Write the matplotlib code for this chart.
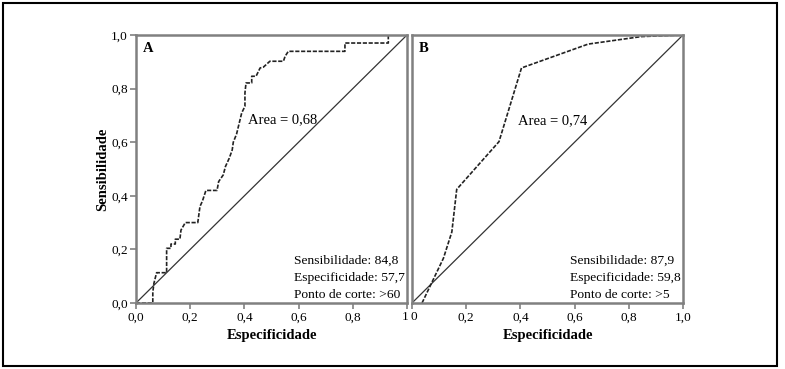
import matplotlib
matplotlib.use('Agg')
import matplotlib.pyplot as plt
import matplotlib.transforms as mtransforms
from matplotlib.patches import Rectangle

plt.rcParams['font.family'] = ['Liberation Serif', 'DejaVu Serif']

# painel A: curva em degraus (1 - especificidade, sensibilidade)
a_x = [0.0, 0.062, 0.062, 0.066, 0.076, 0.113, 0.113, 0.129, 0.129, 0.145, 0.145,
       0.162, 0.166, 0.182, 0.228, 0.236, 0.245, 0.258, 0.299, 0.305, 0.322, 0.33,
       0.344, 0.355, 0.359, 0.371, 0.39, 0.402, 0.402, 0.406, 0.427, 0.427, 0.443,
       0.458, 0.47, 0.494, 0.544, 0.55, 0.562, 0.771, 0.771, 0.931, 0.931, 1.0]
a_y = [0.0, 0.0, 0.04, 0.073, 0.113, 0.113, 0.204, 0.204, 0.22, 0.22, 0.238,
       0.238, 0.272, 0.30, 0.30, 0.36, 0.38, 0.42, 0.42, 0.453, 0.478, 0.509,
       0.54, 0.571, 0.6, 0.63, 0.709, 0.734, 0.784, 0.821, 0.821, 0.846, 0.846,
       0.877, 0.88, 0.902, 0.902, 0.92, 0.939, 0.939, 0.97, 0.97, 1.0, 1.0]

# painel B
b_x = [0.037, 0.116, 0.147, 0.165, 0.321, 0.404, 0.65, 0.846, 1.0]
b_y = [0.0, 0.167, 0.265, 0.424, 0.602, 0.877, 0.966, 0.994, 1.0]

ticks = [0.0, 0.2, 0.4, 0.6, 0.8, 1.0]
a_xlabels = ['0,0', '0,2', '0,4', '0,6', '0,8', '1']
b_xlabels = ['0', '0,2', '0,4', '0,6', '0,8', '1,0']
ylabels = ['0,0', '0,2', '0,4', '0,6', '0,8', '1,0']

panels = [
    ('A', a_x, a_y, 'Area = 0,68', (0.413, 0.683),
     ['Sensibilidade: 84,8', 'Especificidade: 57,7', 'Ponto de corte: >60'], a_xlabels),
    ('B', b_x, b_y, 'Area = 0,74', (0.39, 0.68),
     ['Sensibilidade: 87,9', 'Especificidade: 59,8', 'Ponto de corte: >5'], b_xlabels),
]

fig = plt.figure(figsize=(7.85, 3.69), dpi=100)
fig.patches.append(Rectangle((0.004, 0.008), 0.986, 0.984, transform=fig.transFigure,
                             fill=False, edgecolor='black', linewidth=1.5))

lefts = [136 / 785, 412 / 785]
for i, (tag, xs, ys, area, area_pos, info, xlabs) in enumerate(panels):
    ax = fig.add_axes([lefts[i], 0.1789, 271 / 785, 0.7263])
    ax.plot([0, 1], [0, 1], color='#333333', linewidth=0.9)
    ax.plot(xs, ys, color='#222222', linewidth=1.2, linestyle=(0, (2.5, 1)))
    ax.set_xlim(0, 1)
    ax.set_ylim(0, 1)
    for s in ax.spines.values():
        s.set_color('#808080')
        s.set_linewidth(1.8)
    ax.tick_params(direction='out', length=4, width=1.2, color='#808080',
                   labelsize=9.5, pad=2)
    ax.set_xticks(ticks)
    ax.set_xticklabels(xlabs)
    ax.set_yticks(ticks)
    # o "1" de A e o "0" de B ficam juntos como no original
    shift = -1.0 if i == 0 else 1.0
    edge = ax.get_xticklabels()[-1 if i == 0 else 0]
    edge.set_transform(edge.get_transform() +
                       mtransforms.ScaledTranslation(shift / 72, 0, fig.dpi_scale_trans))
    if i == 0:
        ax.set_yticklabels(ylabels)
        ax.set_ylabel('Sensibilidade', fontweight='bold', fontsize=10.5, labelpad=1)
    else:
        ax.tick_params(axis='y', left=False, labelleft=False)
    ax.set_xlabel('Especificidade', fontweight='bold', fontsize=10.5, labelpad=4)
    ax.text(0.025, 0.975, tag, transform=ax.transAxes, fontweight='bold',
            fontsize=10.5, va='top', ha='left')
    ax.text(area_pos[0], area_pos[1], area, fontsize=10.5, va='center', ha='left')
    for k, line in enumerate(info):
        ax.text(0.583, 0.157 - k * 0.064, line, fontsize=9.7, va='center', ha='left')

fig.savefig('out.png', dpi=100)
